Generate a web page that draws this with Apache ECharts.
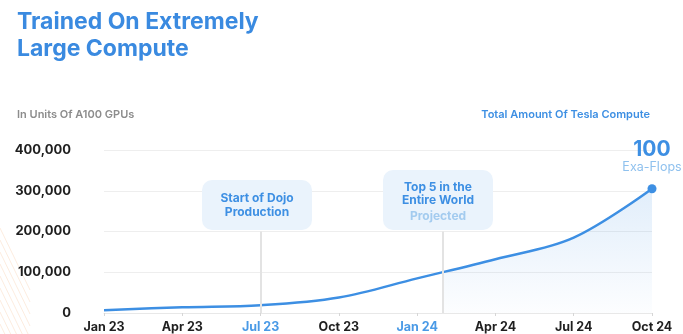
<!DOCTYPE html>
<html>
<head>
<meta charset="utf-8">
<script src="https://cdn.jsdelivr.net/npm/echarts@6/dist/echarts.min.js"></script>
<style>
  html, body { margin: 0; padding: 0; background: #fff; }
  #chart { width: 683px; height: 334px; }
</style>
</head>
<body>
<div id="chart"></div>
<script>
// months since Jan 23, one point per quarter
var months = [0, 3, 6, 9, 12, 15, 18, 21];
var gpus = [7000, 14000, 19000, 38000, 85000, 132000, 185000, 305000];
var tickLabels = ['Jan 23', 'Apr 23', 'Jul 23', 'Oct 23', 'Jan 24', 'Apr 24', 'Jul 24', 'Oct 24'];
var blueTicks = ['Jul 23', 'Jan 24'];
var dojoMonth = 6;       // Start of Dojo Production
var projectedMonth = 13; // projection starts

var blue = '#3d8fe3';
var gridLeft = 104, gridWidth = 548, gridTop = 150, gridHeight = 163;
var areaLeft = gridLeft + gridWidth * projectedMonth / 21;

var points = months.map(function (m, i) { return [m, gpus[i]]; });
var lineData = points.map(function (p, i) {
    if (i === points.length - 1) {
        return {
            value: p, symbol: 'circle', symbolSize: 9,
            label: {
                show: true, position: 'top', distance: 9,
                formatter: '{a|100}\n{b|Exa-Flops}',
                rich: {
                    a: { fontSize: 21, fontWeight: 'bold', color: blue, lineHeight: 20, fontFamily: 'Inter' },
                    b: { fontSize: 12.5, color: '#8fc1ee', lineHeight: 16, fontFamily: 'Inter' }
                }
            }
        };
    }
    return { value: p };
});

var stripes = [];
for (var k = 0; k < 9; k++) {
    stripes.push({
        type: 'line', silent: true,
        shape: { x1: 0, y1: 228 + k * 12, x2: 30, y2: 290 + k * 12 },
        style: { stroke: 'rgba(240,170,110,0.22)', lineWidth: 1 }
    });
}

var chart = echarts.init(document.getElementById('chart'));
chart.setOption({
    backgroundColor: '#fff',
    animation: false,
    grid: [
        { left: gridLeft, width: gridWidth, top: gridTop, height: gridHeight },
        { left: areaLeft, width: gridLeft + gridWidth - areaLeft, top: gridTop, height: gridHeight }
    ],
    xAxis: [{
        type: 'value', min: 0, max: 21, interval: 3,
        axisLine: { show: true, lineStyle: { color: '#e8e8e8' } },
        axisTick: { show: true, length: 3, lineStyle: { color: '#d6d6d6' } },
        splitLine: { show: false },
        axisLabel: {
            margin: 8, fontSize: 12.5, fontWeight: 'bold', fontFamily: 'Inter',
            formatter: function (v) { return tickLabels[v / 3]; },
            color: function (v) {
                return blueTicks.indexOf(tickLabels[v / 3]) >= 0 ? '#4a9ae6' : '#1f1f1f';
            }
        }
    }, {
        type: 'value', gridIndex: 1, min: projectedMonth, max: 21, show: false
    }],
    yAxis: [{
        type: 'value', min: 0, max: 400000, interval: 100000,
        axisLine: { show: false }, axisTick: { show: false },
        splitLine: { lineStyle: { color: '#eeeeee' } },
        axisLabel: {
            margin: 33, fontSize: 13, fontWeight: 'bold', color: '#1f1f1f', fontFamily: 'Inter',
            formatter: function (v) { return v.toLocaleString('en-US'); }
        }
    }, {
        type: 'value', gridIndex: 1, min: 0, max: 400000, show: false
    }],
    series: [{
        type: 'line', xAxisIndex: 1, yAxisIndex: 1, z: 1,
        data: points, smooth: 0.35, symbol: 'none', silent: true,
        lineStyle: { width: 0, opacity: 0 },
        areaStyle: {
            color: new echarts.graphic.LinearGradient(0, 0, 0, 1, [
                { offset: 0, color: 'rgba(61,143,227,0.22)' },
                { offset: 1, color: 'rgba(61,143,227,0.02)' }
            ])
        }
    }, {
        type: 'line', z: 3,
        data: lineData, smooth: 0.35, symbol: 'none',
        itemStyle: { color: blue },
        lineStyle: { color: blue, width: 2.5 },
        markLine: {
            silent: true, symbol: 'none', label: { show: false },
            lineStyle: { color: '#e3e3e3', width: 2, type: 'solid' },
            data: [
                [{ coord: [dojoMonth, 200000] }, { coord: [dojoMonth, 0] }],
                [{ coord: [projectedMonth, 200000] }, { coord: [projectedMonth, 0] }]
            ]
        }
    }],
    graphic: stripes.concat([
        {
            type: 'text', left: 17, top: 9,
            style: {
                text: 'Trained On Extremely\nLarge Compute', fill: '#3a8ae0',
                font: 'bold 23px Inter', lineHeight: 27
            }
        },
        {
            type: 'text', left: 17, top: 109,
            style: { text: 'In Units Of A100 GPUs', fill: '#8c8c8c', font: '600 11px Inter' }
        },
        {
            type: 'text', right: 33, top: 109,
            style: { text: 'Total Amount Of Tesla Compute', fill: blue, font: '600 11px Inter' }
        },
        {
            type: 'rect', z: 10,
            shape: { x: 202, y: 180, width: 110, height: 50, r: 10 },
            style: { fill: '#eaf3fc' }
        },
        {
            type: 'text', z: 11, x: 257, y: 205,
            style: {
                text: 'Start of Dojo\nProduction', fill: blue, font: 'bold 12px Inter',
                align: 'center', verticalAlign: 'middle', lineHeight: 14
            }
        },
        {
            type: 'rect', z: 10,
            shape: { x: 383, y: 170, width: 110, height: 60, r: 10 },
            style: { fill: '#eaf3fc' }
        },
        {
            type: 'text', z: 11, x: 438, y: 194,
            style: {
                text: 'Top 5 in the\nEntire World', fill: blue, font: 'bold 12px Inter',
                align: 'center', verticalAlign: 'middle', lineHeight: 13.5
            }
        },
        {
            type: 'text', z: 11, x: 438, y: 216,
            style: {
                text: 'Projected', fill: '#a3cbef', font: 'bold 12px Inter',
                align: 'center', verticalAlign: 'middle'
            }
        }
    ])
});
</script>
</body>
</html>
